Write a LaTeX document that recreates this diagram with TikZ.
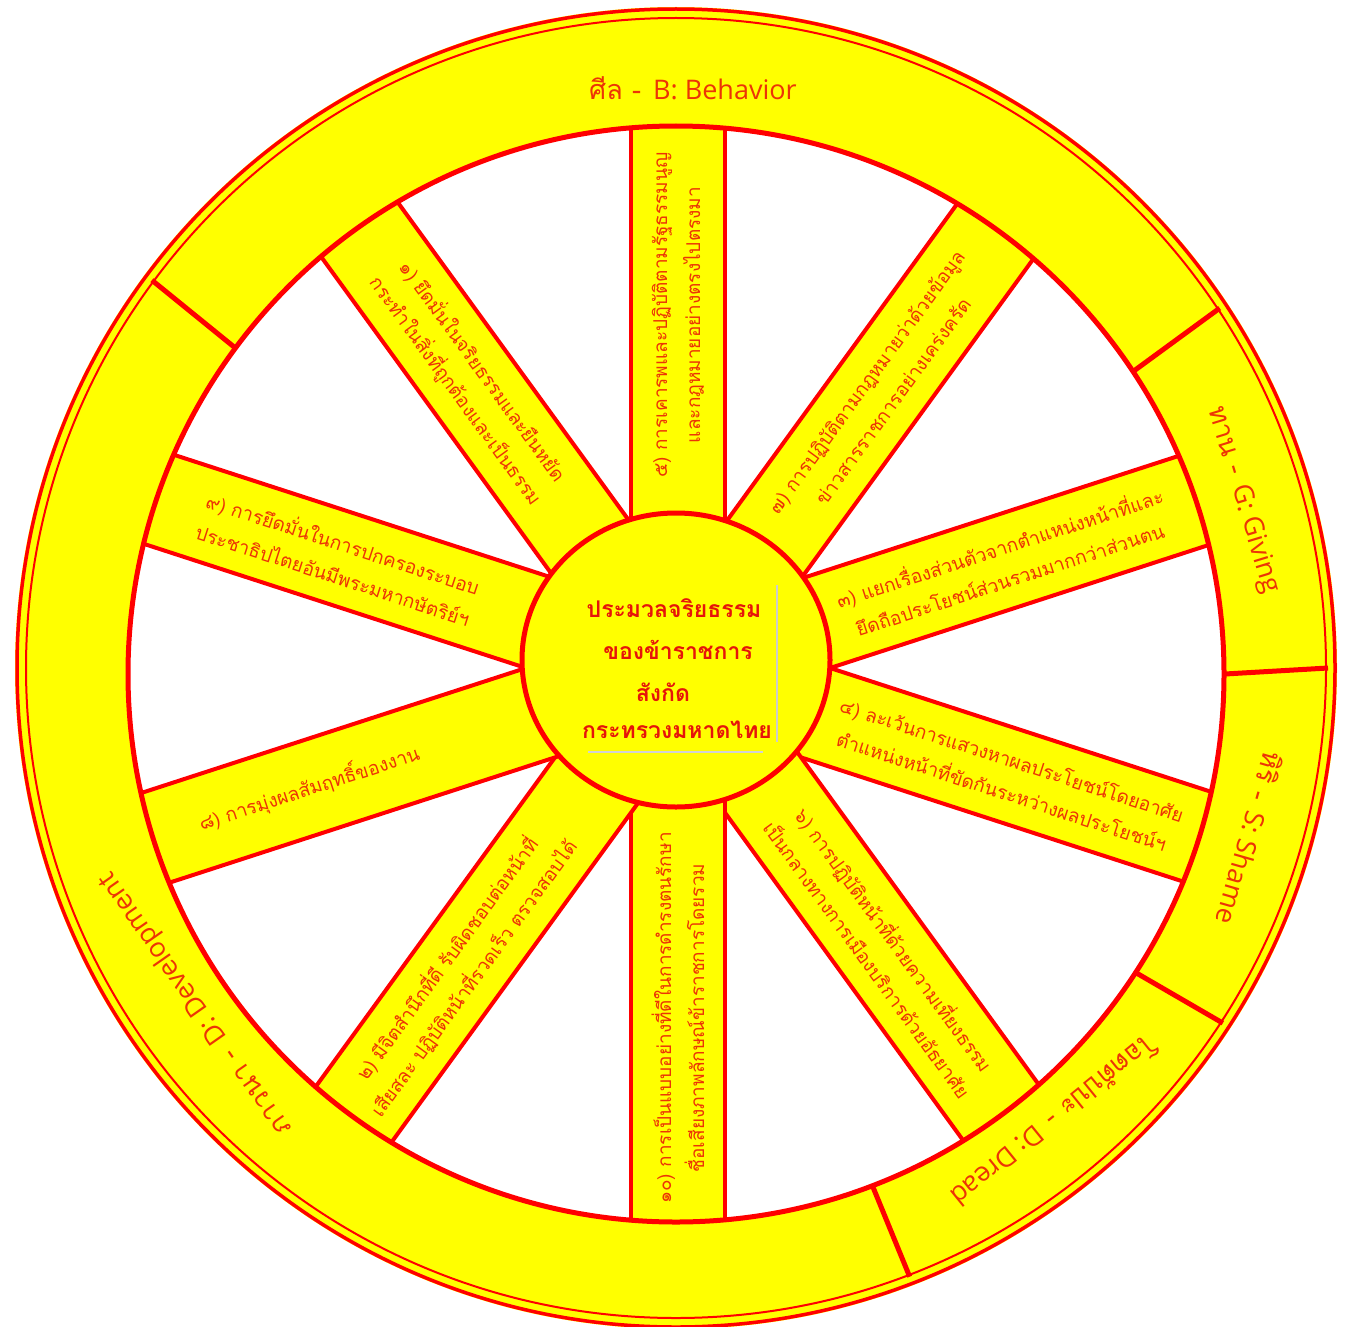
\documentclass[tikz,border=0pt]{standalone}
\usepackage{fontspec}
\newfontfamily\thai[Script=Thai]{Loma}
\newfontfamily\latinf{Open Sans}
\usetikzlibrary{calc}
\definecolor{wy}{RGB}{255,255,0}
\definecolor{wr}{RGB}{255,0,0}
\definecolor{wt}{RGB}{236,52,6}
\definecolor{wh}{RGB}{230,20,10}
\tikzset{
  spokebar/.style={fill=wy, draw=wr, line width=4pt},
  spoketext/.style={text=wt, align=center, inner sep=0pt, font=\thai\fontsize{19}{33}\selectfont},
  rimtext/.style={text=wt, inner sep=0pt, font=\fontsize{27}{30}\selectfont},
  hubtext/.style={text=wh, inner sep=0pt, font=\thai\bfseries\fontsize{23}{28}\selectfont},
  divider/.style={draw=wr, line width=5pt},
}
\newcommand\rimlab[2]{{\thai #1}\hspace{0.45em}{\latinf #2}}
\begin{document}
\begin{tikzpicture}[x=1pt,y=1pt]
\useasboundingbox (0,0) rectangle (1346,-1327);
\fill[white] (0,0) rectangle (1346,-1327);
\coordinate (C) at (678,-668);
\coordinate (Ri) at (676,-674);
\coordinate (Ro) at (676,-668);
% spokes
\foreach \a in {90,54,18,-18,-54,-90,-126,-162,162,126}{
  \draw[spokebar, shift={(678,-668)}, rotate=\a] (0,-47) rectangle (565,47);
}
% rim
\fill[wy, even odd rule] (Ro) circle (661) (Ri) circle (548);
\draw[wr, line width=5pt] (Ri) circle (548);
% dividers
\foreach \b in {143.5,33.5,0,-33,-69}{
  \draw[divider] ([shift={(\b:549)}]Ri) -- ([shift={(\b:652)}]Ro);
}
\draw[wr, line width=3.5pt] (Ro) circle (659);
\draw[wr, line width=2pt] (Ro) circle (650);
% hub
\draw[fill=wy, draw=wr, line width=5pt] (676,-660) ellipse [x radius=154, y radius=147];
\draw[gray!40, line width=1.5pt] (777,-585) -- (777,-742);
\draw[gray!35, line width=1.5pt] (588,-752) -- (763,-752);
\node[hubtext] (h1) at (674,-608) {ประมวลจริยธรรม};
\node[hubtext] (h2) at (678,-650) {ของข้าราชการ};
\node[hubtext] (h3) at (663,-692) {สังกัด};
\node[hubtext] (h4) at (677,-730) {กระทรวงมหาดไทย};
% spoke texts
\node[spoketext, rotate=90] (s5) at ([shift={(90:353)}]C) {๕) การเคารพและปฏิบัติตามรัฐธรรมนูญ\\และกฎหมายอย่างตรงไปตรงมา};
\node[spoketext, rotate=54] (s7) at ([shift={(54:342)}]C) {๗) การปฏิบัติตามกฎหมายว่าด้วยข้อมูล\\ข่าวสารราชการอย่างเคร่งครัด};
\node[spoketext, rotate=18] (s3) at ([shift={(18:343)}]C) {๓) แยกเรื่องส่วนตัวจากตำแหน่งหน้าที่และ\\ยึดถือประโยชน์ส่วนรวมมากกว่าส่วนตน};
\node[spoketext, rotate=-18] (s4) at ([shift={(-18:346)}]C) {๔) ละเว้นการแสวงหาผลประโยชน์โดยอาศัย\\ตำแหน่งหน้าที่ขัดกันระหว่างผลประโยชน์ฯ};
\node[spoketext, rotate=-54] (s6) at ([shift={(-54:347)}]C) {๖) การปฏิบัติหน้าที่ด้วยความเที่ยงธรรม\\เป็นกลางทางการเมืองบริการด้วยอัธยาศัย};
\node[spoketext, rotate=90] (s10) at ([shift={(-90:350)}]C) {๑๐) การเป็นแบบอย่างที่ดีในการดำรงตนรักษา\\ชื่อเสียงภาพลักษณ์ข้าราชการโดยรวม};
\node[spoketext, rotate=54] (s2) at ([shift={(-126:371)}]C) {๒) มีจิตสำนึกที่ดี รับผิดชอบต่อหน้าที่\\เสียสละ ปฏิบัติหน้าที่รวดเร็ว ตรวจสอบได้};
\node[spoketext, rotate=18] (s8) at ([shift={(-162:388)}]C) {๘) การมุ่งผลสัมฤทธิ์ของงาน};
\node[spoketext, rotate=-18] (s9) at ([shift={(162:357)}]C) {๙) การยึดมั่นในการปกครองระบอบ\\ประชาธิปไตยอันมีพระมหากษัตริย์ฯ};
\node[spoketext, rotate=-54] (s1) at ([shift={(126:355)}]C) {๑) ยึดมั่นในจริยธรรมและยืนหยัด\\กระทำในสิ่งที่ถูกต้องและเป็นธรรม};
% rim labels
\node[rimtext] (rb) at (693,-88) {\rimlab{ศีล -}{B: Behavior}};
\node[rimtext, rotate=-73] (rg) at (1243,-500) {\rimlab{ทาน -}{G: Giving}};
\node[rimtext, rotate=-106] (rs) at (1250,-838) {\rimlab{หิริ -}{S: Shame}};
\node[rimtext, rotate=-141] (rd) at (1055,-1122) {\rimlab{โอตตัปปะ -}{D: Dread}};
\node[rimtext, rotate=125] (rv) at (196,-1004) {\rimlab{ภาวนา -}{D: Development}};
\end{tikzpicture}
\end{document}
